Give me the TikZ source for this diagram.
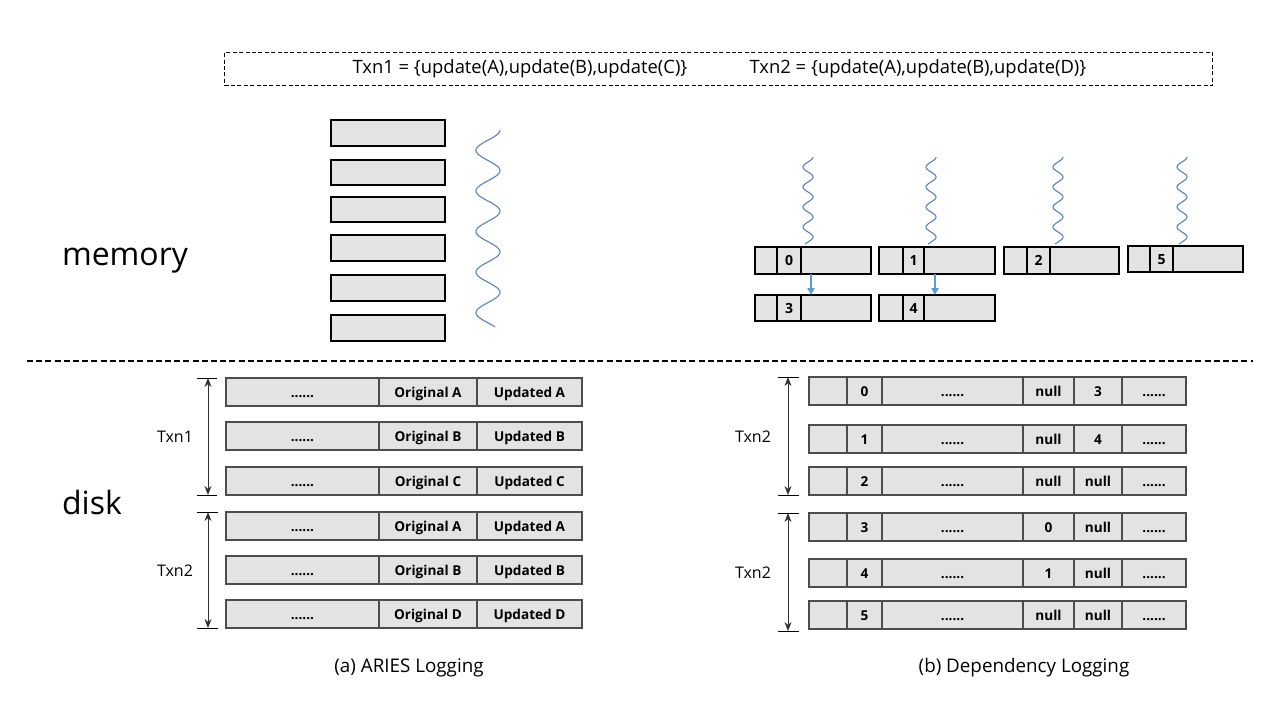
\documentclass[tikz,border=0pt]{standalone}
\usepackage{fontspec}
\setmainfont{Open Sans}
\usetikzlibrary{arrows.meta,calc}
\definecolor{cellfill}{HTML}{E3E3E3}
\definecolor{wavecol}{HTML}{5B83B5}
\definecolor{arrcol}{HTML}{5B9BD5}
\newcommand\cellbox[7][diskcell]{%
  \pgfmathsetmacro\cwid{(#5-#3)*0.5}%
  \pgfmathsetmacro\chgt{(#6-#4)*0.5}%
  \node[#1, minimum width=\cwid pt, minimum height=\chgt pt, anchor=north west] (#2) at (#3,#4) {#7};}
\begin{document}
\begin{tikzpicture}[x=0.5pt,y=-0.5pt,
  diskcell/.style={draw=black!70, fill=cellfill, line width=0.6pt, inner sep=0pt, outer sep=0pt, text height=5pt, text depth=0pt, font=\bfseries\fontsize{6.8}{8}\selectfont},
  memcell/.style={draw=black, fill=cellfill, line width=0.7pt, inner sep=0pt, outer sep=0pt, text height=5pt, text depth=0pt, font=\bfseries\fontsize{7}{8}\selectfont},
  wave/.style={draw=wavecol, line width=0.55pt},
  blue arrow/.style={draw=arrcol, line width=0.9pt, -{Triangle[length=3.5pt,width=3.5pt]}},
  span arrow/.style={line width=0.5pt, black!80, {Stealth[length=4.5pt,width=3.5pt]}-{Stealth[length=4.5pt,width=3.5pt]}},
  tick/.style={line width=0.5pt, black},
  lbl/.style={font=\fontsize{8}{9}\selectfont, inner sep=0pt},
  big/.style={font=\fontsize{16}{18}\selectfont, inner sep=0pt},
  captxt/.style={font=\fontsize{9.4}{10}\selectfont, inner sep=0pt},
  hdrtxt/.style={font=\fontsize{9.2}{10}\selectfont, inner sep=0pt}
]
\useasboundingbox (0,0) rectangle (1280,720);
\fill[white] (0,0) rectangle (1280,720);

% header
\node[draw, dash pattern=on 2pt off 1.2pt, line width=0.5pt, minimum width=494pt, minimum height=16.5pt, anchor=north west, inner sep=0pt] (hdr) at (224,52) {};
\node[hdrtxt] (h1) at (520,69) {Txn1 = \{update(A),update(B),update(C)\}};
\node[hdrtxt] (h2) at (918,69) {Txn2 = \{update(A),update(B),update(D)\}};

% labels
\node[big] (mem) at (125,261) {memory};
\node[big] (dsk) at (92,502) {disk};

% divider
\coordinate (dl) at (27,361);
\coordinate (dr) at (1253,361);
\draw[line width=0.7pt, dash pattern=on 3pt off 1.6pt] (dl) -- (dr);

% left memory boxes
\foreach \i/\a/\b in {1/120/146,2/160/185,3/197/222,4/235/261,5/275/301,6/315/341}{
  \cellbox[memcell]{lm\i}{331}{\a}{445}{\b}{}
}
\draw[wave] plot[domain=130:327, samples=200, smooth] ({488+12*cos(8.867*(\x-130))}, \x);

% right memory boxes
\foreach \n/\xa/\xb/\xc/\xd/\ya/\yb in {0/755/777/801/871/247/274, 1/879/903/924/995/247/274, 2/1004/1027/1050/1119/247/274, 5/1128/1150/1173/1243/246/272, 3/755/777/801/871/295/321, 4/879/903/924/995/295/321}{
  \cellbox[memcell]{m\n a}{\xa}{\ya}{\xb}{\yb}{}
  \cellbox[memcell]{m\n b}{\xb}{\ya}{\xc}{\yb}{\n}
  \cellbox[memcell]{m\n c}{\xc}{\ya}{\xd}{\yb}{}
}
\foreach \c in {808,931,1058,1182}{
  \draw[wave] plot[domain=157:244, samples=120, smooth] ({\c+5*cos(18*(\x-157))}, \x);
}
\draw[blue arrow] ([xshift=5pt]m0c.south west) -- ([xshift=5pt]m3c.north west);
\draw[blue arrow] ([xshift=5.5pt]m1c.south west) -- ([xshift=5.5pt]m4c.north west);

% left disk rows
\foreach \i/\yt/\L in {1/378/A,2/422/B,3/467/C,4/512/A,5/556/B,6/600/D}{
  \cellbox{la\i}{226}{\yt}{379}{\yt+28}{......}
  \cellbox{lb\i}{379}{\yt}{477}{\yt+28}{Original \L}
  \cellbox{lc\i}{477}{\yt}{582}{\yt+28}{Updated \L}
}
% right disk rows
\foreach \i/\yt/\n/\p/\q in {1/377/0/null/3,2/425/1/null/4,3/467/2/null/null,4/513/3/0/null,5/559/4/1/null,6/601/5/null/null}{
  \cellbox{ra\i}{809}{\yt}{847}{\yt+28}{}
  \cellbox{rb\i}{847}{\yt}{882}{\yt+28}{\n}
  \cellbox{rc\i}{882}{\yt}{1023}{\yt+28}{......}
  \cellbox{rd\i}{1023}{\yt}{1074}{\yt+28}{\p}
  \cellbox{re\i}{1074}{\yt}{1122}{\yt+28}{\q}
  \cellbox{rf\i}{1122}{\yt}{1186}{\yt+28}{......}
}

% span arrows left
\coordinate (a1t) at (208,378); \coordinate (a1b) at (208,495);
\coordinate (a2t) at (208,512); \coordinate (a2b) at (208,628);
\draw[span arrow] (a1t) -- (a1b);
\draw[span arrow] (a2t) -- (a2b);
\draw[tick] (197,378) -- (217,378);
\draw[tick] (197,495) -- (217,495);
\draw[tick] (197,512) -- (218,512);
\draw[tick] (197,628) -- (218,628);
\node[lbl] (t1) at (175,437) {Txn1};
\node[lbl] (t2) at (175,571) {Txn2};

% span arrows right
\coordinate (b1t) at (788,377); \coordinate (b1b) at (788,495);
\coordinate (b2t) at (788,513); \coordinate (b2b) at (788,631);
\draw[span arrow] (b1t) -- (b1b);
\draw[span arrow] (b2t) -- (b2b);
\draw[tick] (778,377) -- (799,377);
\draw[tick] (778,495) -- (799,495);
\draw[tick] (778,513) -- (799,513);
\draw[tick] (778,631) -- (799,631);
\node[lbl] (t3) at (753,437) {Txn2};
\node[lbl] (t4) at (753,573) {Txn2};

% captions
\node[captxt] (ca) at (409,668) {(a) ARIES Logging};
\node[captxt] (cb) at (1024,668) {(b) Dependency Logging};
\end{tikzpicture}
\end{document}
